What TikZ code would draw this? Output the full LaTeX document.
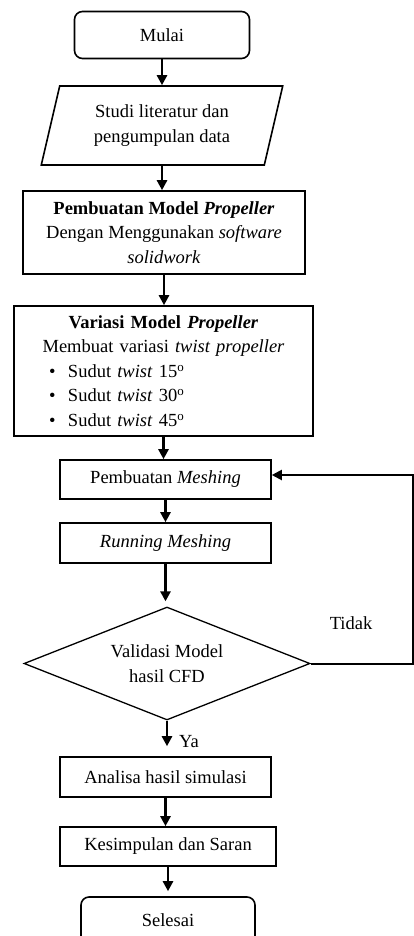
\documentclass[tikz,border=0pt]{standalone}
\usepackage{fontspec}
\setmainfont{Liberation Serif}
\usepackage{tikz}
\usetikzlibrary{arrows.meta, shapes, positioning}
\newcommand{\teks}{\fontsize{18.5}{24.5}\selectfont}
\tikzset{
  terminal/.style={rectangle, draw, line width=1.6pt, rounded corners=8pt,
                   minimum width=175pt, minimum height=47pt, font=\teks},
  proses/.style={rectangle, draw, line width=1.6pt, minimum height=40pt,
                 font=\teks, align=center, inner sep=3pt},
  dataio/.style={trapezium, trapezium left angle=75, trapezium right angle=105,
                 trapezium stretches=true, draw, line width=1.6pt,
                 minimum width=242pt, minimum height=79pt, font=\teks, align=center},
  keputusan/.style={diamond, draw, line width=1.3pt, aspect=2.5, inner sep=0pt,
                    minimum width=286pt, minimum height=113pt, font=\teks, align=center},
  arc/.style={-{Triangle[length=10pt, width=10pt]}, line width=2.8pt},
  lbl/.style={font=\teks, inner sep=0pt}
}

\begin{document}
\begin{tikzpicture}[x=1pt, y=-1pt]
  \useasboundingbox (0,0) rectangle (414,936);
  \node[terminal] (mulai) at (162,35) {Mulai};
  \node[dataio] (studi) at (162,125.5) {Studi literatur dan\\pengumpulan data};
  \node[proses, minimum width=282pt, minimum height=83pt] (model) at (164,232.5)
       {\textbf{Pembuatan Model \textit{Propeller}}\\Dengan Menggunakan \textit{software}\\\textit{solidwork}};
  \node[proses, minimum width=299pt, minimum height=130pt, text width=291pt, align=left]
       (variasi) at (163.5,371)
       {\makebox[\linewidth]{\textbf{Variasi Model \textit{Propeller}}}\\
        \makebox[\linewidth]{Membuat variasi \textit{twist propeller}}\\
        \hspace*{31pt}\makebox[19pt][l]{\textbullet}Sudut \textit{twist} 15\textsuperscript{o}\\
        \hspace*{31pt}\makebox[19pt][l]{\textbullet}Sudut \textit{twist} 30\textsuperscript{o}\\
        \hspace*{31pt}\makebox[19pt][l]{\textbullet}Sudut \textit{twist} 45\textsuperscript{o}};
  \node[proses, minimum width=211pt, minimum height=39pt] (mesh) at (165.5,479.5)
       {Pembuatan \textit{Meshing}};
  \node[proses, minimum width=211pt] (running) at (165.5,543) {\textit{Running Meshing}};
  \node[keputusan] (valid) at (167,663.5) {Validasi Model\\hasil CFD};
  \node[proses, minimum width=211pt] (analisa) at (165.5,777) {Analisa hasil simulasi};
  \node[proses, minimum width=216pt, minimum height=39pt] (simpul) at (168,846.5)
       {Kesimpulan dan Saran};
  \node[terminal, minimum width=174pt] (selesai) at (168,920.5) {Selesai};
  % alur utama
  \foreach \a/\b in {mulai/studi, studi/model, model/variasi, variasi/mesh, mesh/running}
    \draw[arc] (\a.south) -- (\a.south |- \b.north);
  \draw[arc, shorten >=5pt] (running.south) -- (running.south |- valid.north);
  \draw[arc, shorten >=10pt] (valid.south) -- (valid.south |- analisa.north);
  \draw[arc] (analisa.south) -- (analisa.south |- simpul.north);
  \draw[arc, shorten >=5pt] (simpul.south) -- (simpul.south |- selesai.north);
  % umpan balik
  \coordinate (kanan) at (413,475);
  \draw[arc, line width=2pt] (valid.east) -| (kanan) -- (mesh.east |- kanan);
  \node[lbl] (tidak) at (351,623) {Tidak};
  \node[lbl] (ya) at (189,742) {Ya};
\end{tikzpicture}
\end{document}
